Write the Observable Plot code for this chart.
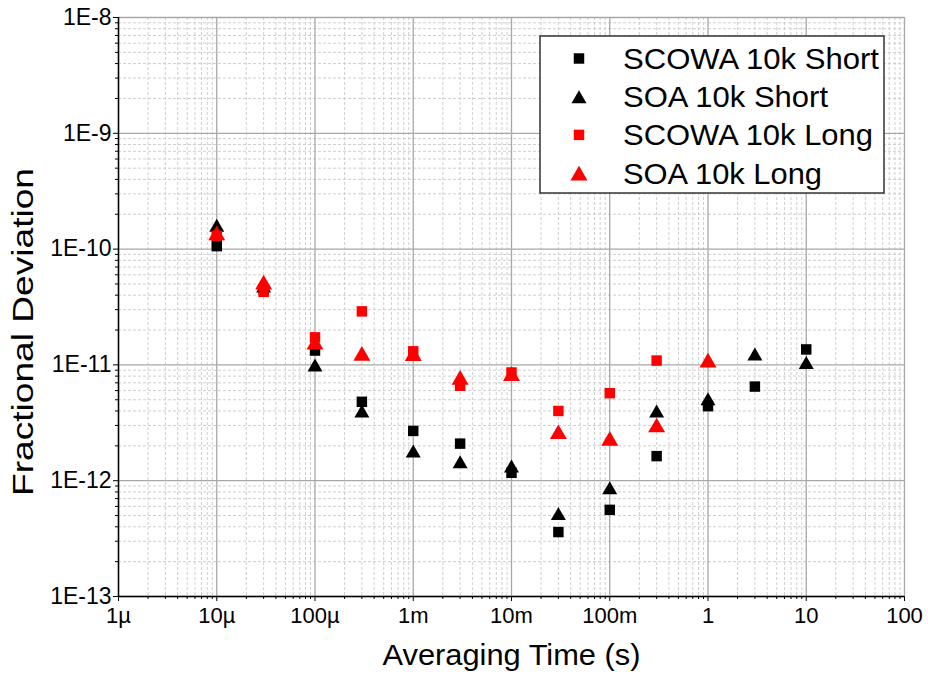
<!DOCTYPE html>
<html><head><meta charset="utf-8">
<script src="https://cdn.jsdelivr.net/npm/d3@7"></script>
<script src="https://cdn.jsdelivr.net/npm/@observablehq/plot@0.6"></script>
<style>
body{margin:0;background:#fff;}
svg{font-family:"Liberation Sans",Arial,sans-serif;}
</style>
</head><body><div id="chart"></div>
<script>
// ---- data ----
const tau = [1e-5, 3e-5, 1e-4, 3e-4, 1e-3, 3e-3, 1e-2, 3e-2, 1e-1, 3e-1, 1, 3, 10];
const scowaShort = [1.06e-10, 4.5e-11, 1.33e-11, 4.8e-12, 2.69e-12, 2.09e-12, 1.17e-12, 3.6e-13, 5.6e-13, 1.63e-12, 4.4e-12, 6.5e-12, 1.36e-11];
const soaShort   = [1.61e-10, 4.8e-11, 1.0e-11, 4.0e-12, 1.81e-12, 1.46e-12, 1.34e-12, 5.2e-13, 8.7e-13, 4.0e-12, 5.1e-12, 1.24e-11, 1.05e-11];
const scowaLong  = [1.3e-10, 4.27e-11, 1.73e-11, 2.9e-11, 1.31e-11, 6.6e-12, 8.6e-12, 4.0e-12, 5.7e-12, 1.09e-11];
const soaLong    = [1.38e-10, 5.2e-11, 1.57e-11, 1.26e-11, 1.25e-11, 7.8e-12, 8.4e-12, 2.65e-12, 2.32e-12, 3.03e-12, 1.1e-11];
const seriesNames = ["SCOWA 10k Short", "SOA 10k Short", "SCOWA 10k Long", "SOA 10k Long"];
const xTicks = [1e-6, 1e-5, 1e-4, 1e-3, 1e-2, 1e-1, 1, 10, 100];
const xTickLabels = ["1µ", "10µ", "100µ", "1m", "10m", "100m", "1", "10", "100"];
const yTicks = [1e-13, 1e-12, 1e-11, 1e-10, 1e-9, 1e-8];
const yTickLabels = ["1E-13", "1E-12", "1E-11", "1E-10", "1E-9", "1E-8"];
const xTitle = "Averaging Time (s)";
const yTitle = "Fractional Deviation";

// ---- build ----
const rows = (name, ys) => ys.map((v, i) => ({series: name, tau: tau[i], dev: v}));
const minorOf = majors => majors.slice(0, -1).flatMap(m => [2,3,4,5,6,7,8,9].map(k => k * m));
const xMinor = minorOf(xTicks), yMinor = minorOf(yTicks);

const sqR = 5.9, triR = 5.57, triRed = 6.31;

const plot = Plot.plot({
  width: 928, height: 677,
  marginLeft: 118, marginRight: 24, marginTop: 17, marginBottom: 81,
  x: {type: "log", domain: [1e-6, 100], axis: null},
  y: {type: "log", domain: [1e-13, 1e-8], axis: null},
  style: {fontFamily: '"Liberation Sans", Arial, sans-serif', background: "white", color: "black"},
  marks: [
    Plot.gridX(xMinor, {stroke: "#cfcfcf", strokeOpacity: 1, strokeDasharray: "3,2"}),
    Plot.gridY(yMinor, {stroke: "#cfcfcf", strokeOpacity: 1, strokeDasharray: "3,2"}),
    Plot.gridX(xTicks, {stroke: "#a8a8a8", strokeOpacity: 1, strokeWidth: 1.3}),
    Plot.gridY(yTicks, {stroke: "#a8a8a8", strokeOpacity: 1, strokeWidth: 1.3}),
    Plot.axisX(xMinor, {tickSize: 3, tickFormat: () => "", stroke: "black", label: null}),
    Plot.axisY(yMinor, {tickSize: 3, tickFormat: () => "", stroke: "black", label: null}),
    Plot.axisX(xTicks, {tickSize: 5, tickPadding: 6, fontSize: 22, stroke: "black", label: null,
      tickFormat: d => xTickLabels[xTicks.indexOf(d)]}),
    Plot.axisY(yTicks, {tickSize: 5, tickPadding: 2, fontSize: 23, stroke: "black", label: null,
      tickFormat: d => yTickLabels[yTicks.indexOf(d)]}),
    Plot.ruleX([1e-6], {stroke: "black", strokeWidth: 1.5}),
    Plot.ruleY([1e-13], {stroke: "black", strokeWidth: 1.5}),
    Plot.dot(rows(seriesNames[0], scowaShort), {x: "tau", y: "dev", symbol: "square", r: sqR, fill: "black", stroke: "none"}),
    Plot.dot(rows(seriesNames[1], soaShort), {x: "tau", y: "dev", symbol: "triangle", r: triR, fill: "black", stroke: "none", dy: 2.2}),
    Plot.dot(rows(seriesNames[2], scowaLong), {x: "tau", y: "dev", symbol: "square", r: sqR, fill: "#ff0000", stroke: "none"}),
    Plot.dot(rows(seriesNames[3], soaLong), {x: "tau", y: "dev", symbol: "triangle", r: triRed, fill: "#ff0000", stroke: "none", dy: 2.5})
  ]
});
document.getElementById("chart").appendChild(plot);

// ---- titles and legend ----
const svg = d3.select(plot);
svg.append("text").text(xTitle)
  .attr("x", 511.5).attr("y", 665).attr("text-anchor", "middle")
  .attr("font-size", 30).attr("fill", "black")
  .attr("textLength", 258).attr("lengthAdjust", "spacingAndGlyphs");
svg.append("text").text(yTitle)
  .attr("transform", "translate(33,332) rotate(-90)").attr("text-anchor", "middle")
  .attr("font-size", 30).attr("fill", "black")
  .attr("textLength", 328).attr("lengthAdjust", "spacingAndGlyphs");

const lg = svg.append("g");
lg.append("rect").attr("x", 540).attr("y", 36).attr("width", 344).attr("height", 157)
  .attr("fill", "white").attr("stroke", "#333").attr("stroke-width", 1.5);
const legendItems = [
  {name: seriesNames[0], type: d3.symbolSquare, r: sqR, color: "black", dy: 0, len: 256},
  {name: seriesNames[1], type: d3.symbolTriangle, r: triR, color: "black", dy: 2.2, len: 205},
  {name: seriesNames[2], type: d3.symbolSquare, r: sqR, color: "#ff0000", dy: 0, len: 250},
  {name: seriesNames[3], type: d3.symbolTriangle, r: triRed, color: "#ff0000", dy: 2.5, len: 199}
];
legendItems.forEach((it, i) => {
  const cy = 58.5 + i * 38.2;
  lg.append("path").attr("d", d3.symbol().type(it.type).size(Math.PI * it.r * it.r)())
    .attr("transform", `translate(579,${cy + it.dy})`).attr("fill", it.color);
  lg.append("text").text(it.name).attr("x", 623).attr("y", cy + 10.5)
    .attr("text-anchor", "start").attr("font-size", 30).attr("fill", "black")
    .attr("textLength", it.len).attr("lengthAdjust", "spacingAndGlyphs");
});
</script>
</body></html>
